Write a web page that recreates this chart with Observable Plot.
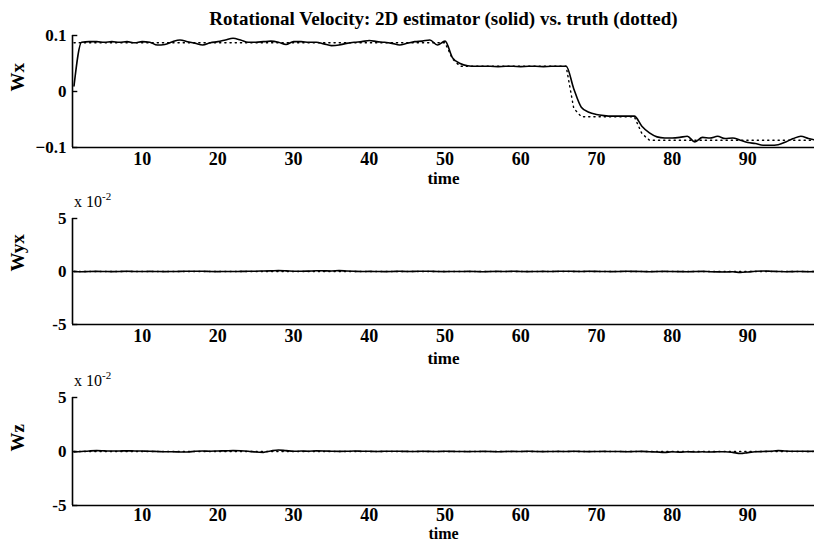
<!DOCTYPE html>
<html><head><meta charset="utf-8">
<script src="https://cdn.jsdelivr.net/npm/d3@7"></script>
<script src="https://cdn.jsdelivr.net/npm/@observablehq/plot@0.6"></script>
<style>
body{margin:0;background:#fff;}
#wrap{position:relative;width:814px;height:541px;overflow:hidden;font-family:"Liberation Serif","Times New Roman",serif;}
#wrap svg{display:block;}
.sci{position:absolute;left:74px;font-size:16px;line-height:16px;color:#000;}
.sci sup{font-size:11px;vertical-align:7px;line-height:0;}
</style></head><body>
<div id="wrap"><div id="plots"></div>
<div class="sci" style="top:194px">x 10<sup>-2</sup></div>
<div class="sci" style="top:373px">x 10<sup>-2</sup></div>
</div>
<script>
const time = [1,2,3,4,5,6,7,8,9,10,11,12,13,14,15,16,17,18,19,20,21,22,23,24,25,26,27,28,29,30,31,32,33,34,35,36,37,38,39,40,41,42,43,44,45,46,47,48,49,50,51,52,53,54,55,56,57,58,59,60,61,62,63,64,65,66,67,68,69,70,71,72,73,74,75,76,77,78,79,80,81,82,83,84,85,86,87,88,89,90,91,92,93,94,95,96,97,98,99];

// Wx estimate (solid)
const wxEst = [0.010,0.088,0.089,0.089,0.088,0.089,0.088,0.089,0.087,0.089,0.088,0.083,0.084,0.089,0.092,0.089,0.086,0.083,0.087,0.089,0.092,0.095,0.092,0.088,0.088,0.089,0.090,0.088,0.084,0.089,0.089,0.088,0.088,0.085,0.082,0.083,0.086,0.088,0.089,0.091,0.089,0.088,0.086,0.083,0.086,0.089,0.090,0.092,0.083,0.090,0.060,0.050,0.046,0.045,0.045,0.045,0.0445,0.045,0.045,0.0445,0.045,0.045,0.0445,0.045,0.045,0.045,0.005,-0.028,-0.037,-0.041,-0.043,-0.044,-0.044,-0.044,-0.044,-0.062,-0.074,-0.081,-0.083,-0.083,-0.082,-0.080,-0.090,-0.082,-0.083,-0.080,-0.084,-0.083,-0.087,-0.091,-0.093,-0.096,-0.096,-0.095,-0.090,-0.084,-0.080,-0.084,-0.087];

// Wx truth (dotted): breakpoints
const truthTime = [1,50,51,52,66,67,68,75,76,77,99];
const wxTruth = [0.087,0.087,0.058,0.045,0.045,-0.030,-0.045,-0.045,-0.075,-0.087,-0.087];

// Wyx and Wz estimates, in units of 1e-2
const wyxEst = [0.00,-0.02,0.00,0.01,0.00,-0.01,0.00,0.02,0.00,0.00,0.01,0.00,-0.01,0.00,0.01,0.02,0.03,0.02,0.00,-0.01,0.00,0.00,0.01,0.02,0.03,0.05,0.06,0.08,0.06,0.03,0.02,0.04,0.07,0.06,0.05,0.08,0.05,0.02,0.00,0.01,0.00,-0.01,0.00,0.02,0.00,0.01,0.03,0.02,0.00,-0.01,0.00,0.00,0.01,0.00,-0.02,0.00,0.01,0.00,0.02,0.00,-0.01,0.00,0.01,0.00,0.02,0.03,0.01,0.00,0.02,0.01,0.00,-0.01,0.00,0.02,0.01,0.00,-0.02,0.00,0.01,0.00,-0.01,-0.02,0.00,0.01,-0.02,-0.04,-0.05,-0.03,-0.08,-0.04,0.02,0.05,0.03,0.00,-0.02,-0.01,0.00,-0.02,0.00];
const wzEst = [-0.05,0.00,0.05,0.08,0.06,0.04,0.05,0.06,0.05,0.04,0.03,0.00,-0.03,-0.02,-0.05,-0.04,0.02,0.04,0.03,0.05,0.06,0.08,0.07,0.03,-0.05,-0.08,0.05,0.14,0.08,0.02,0.04,0.03,0.06,0.05,0.03,0.01,0.02,0.04,0.03,0.02,0.00,0.02,0.03,0.02,0.01,0.00,0.02,0.01,0.00,0.02,0.01,0.00,-0.01,0.00,0.01,0.00,-0.02,0.00,0.01,0.00,0.02,0.00,-0.01,0.00,0.01,0.00,0.02,0.00,-0.01,0.00,0.01,0.00,0.00,-0.02,0.00,0.01,-0.02,-0.05,-0.08,-0.03,-0.06,-0.02,-0.05,-0.03,-0.05,-0.03,-0.02,-0.08,-0.18,-0.10,-0.03,0.00,0.03,0.08,0.04,0.02,0.03,0.01,0.02];
const zeroTruthTime = [1,99];
const zeroTruth = [0,0];

const xDomain = [0.8, 98.8];
const xTicks = [10,20,30,40,50,60,70,80,90];
const wxTicks = [0.1, 0, -0.1];
const smallTicks = [5, 0, -5];

const FONT = "Liberation Serif";

function panel({est, tTime, truth, yDomain, yTicks, yFormat, label, height, marginTop, marginBottom, timeDy, timeSize = 17, tickPad = 5, title}) {
  const marks = [
    Plot.ruleX([xDomain[0]], {stroke: "#000", strokeWidth: 1.6}),
    Plot.ruleY([yDomain[0]], {stroke: "#000", strokeWidth: 1.6}),
    Plot.ruleY(yTicks, {x1: xDomain[0], x2: xDomain[0] + 0.7, stroke: "#000", strokeWidth: 1.4}),
    Plot.axisX({ticks: xTicks, tickSize: 0, tickPadding: tickPad, label: null, fontSize: 18, fontWeight: "bold", fontFamily: FONT}),
    Plot.axisY({ticks: yTicks, tickSize: 0, tickPadding: 6, tickFormat: yFormat, label: null, fontSize: 17, fontWeight: "bold", fontFamily: FONT}),
    Plot.line(tTime.map((t, i) => ({t, v: truth[i]})), {x: "t", y: "v", stroke: "#000", strokeWidth: 1.4, strokeDasharray: "1.2,4", strokeLinecap: "round", clip: true}),
    Plot.line(time.map((t, i) => ({t, v: est[i]})), {x: "t", y: "v", stroke: "#000", strokeWidth: 1.6, curve: "monotone-x", clip: true}),
    Plot.text([label], {frameAnchor: "left", dx: -55, rotate: -90, fontSize: 19, fontFamily: FONT, fontWeight: "bold", fill: "#000"}),
    Plot.text(["time"], {frameAnchor: "bottom", dy: timeDy, fontSize: timeSize, fontFamily: FONT, fontWeight: "bold", fill: "#000"})
  ];
  if (title) marks.push(Plot.text([title], {frameAnchor: "top", dy: -24, fontSize: 19, fontFamily: FONT, fontWeight: "bold", fill: "#000"}));
  return Plot.plot({
    width: 814, height, marginLeft: 72, marginRight: 0, marginTop, marginBottom,
    x: {domain: xDomain},
    y: {domain: yDomain},
    style: {fontFamily: FONT, color: "#000", background: "#fff", overflow: "visible"},
    marks
  });
}

const host = document.getElementById("plots");
host.append(panel({est: wxEst, tTime: truthTime, truth: wxTruth, yDomain: [-0.1, 0.1], yTicks: wxTicks,
  yFormat: d => d === 0 ? "0" : d3.format(".1f")(d),
  label: "Wx", height: 190, marginTop: 35, marginBottom: 43, timeDy: 36,
  title: "Rotational Velocity: 2D estimator (solid) vs. truth (dotted)"}));
host.append(panel({est: wyxEst, tTime: zeroTruthTime, truth: zeroTruth, yDomain: [-5, 5], yTicks: smallTicks,
  yFormat: d => String(d), label: "Wyx", height: 180, marginTop: 28, marginBottom: 46, timeDy: 39}));
host.append(panel({est: wzEst, tTime: zeroTruthTime, truth: zeroTruth, yDomain: [-5, 5], yTicks: smallTicks,
  yFormat: d => String(d), label: "Wz", height: 171, marginTop: 27, marginBottom: 36, timeDy: 33, timeSize: 16, tickPad: 3}));
</script>
</body></html>
